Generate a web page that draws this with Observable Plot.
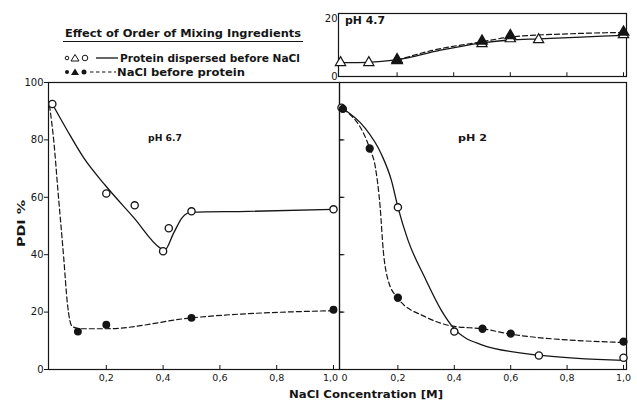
<!DOCTYPE html>
<html><head><meta charset="utf-8">
<script src="https://cdn.jsdelivr.net/npm/d3@7"></script>
<script src="https://cdn.jsdelivr.net/npm/@observablehq/plot@0.6"></script>
<style>
body{margin:0;background:#fff;}
#wrap{position:relative;width:637px;height:409px;overflow:hidden;background:#fff;}
#wrap svg{position:absolute;left:0;top:0;}
</style></head><body><div id="wrap"></div>
<script>
// ---------- data ----------
const xTicks = [0.2, 0.4, 0.6, 0.8, 1.0];
const xLabelsLeft = [0.2, 0.4, 0.6, 0.8];
const xLabelsLeftEnd = [1.0];
const xLabelsRightStart = [0];
const xLabelsRight = [0.2, 0.4, 0.6, 0.8, 1.0];
const yTicks = [0, 20, 40, 60, 80, 100];
const yInnerTicks = [20, 40, 60, 80];
const yTicksInset = [0, 20];

// pH 6.7 panel
const ph67OpenX = [0.01, 0.2, 0.3, 0.4, 0.42, 0.5, 1.0];
const ph67OpenY = [92.5, 61.3, 57.2, 41.2, 49.2, 55.1, 55.8];
const ph67FilledX = [0.1, 0.2, 0.5, 1.0];
const ph67FilledY = [13.2, 15.6, 18.0, 20.8];
const ph67SolidX = [0.01, 0.063, 0.12, 0.197, 0.296, 0.39, 0.405, 0.437, 0.468, 0.5, 0.7, 1.0];
const ph67SolidY = [92.5, 83.2, 73.8, 64.1, 53.0, 42.3, 41.5, 47.5, 53.0, 54.8, 55.1, 55.8];
const ph67DashX = [0.0, 0.015, 0.03, 0.05, 0.063, 0.08, 0.11, 0.2, 0.5, 1.0];
const ph67DashY = [92.0, 79.7, 62.0, 39.0, 23.0, 15.0, 14.2, 14.2, 18.0, 20.5];

// pH 2 panel
const ph2OpenX = [0.0, 0.2, 0.4, 0.7, 1.0];
const ph2OpenY = [91.2, 56.5, 13.2, 4.9, 4.1];
const ph2FilledX = [0.005, 0.1, 0.2, 0.5, 0.6, 1.0];
const ph2FilledY = [90.8, 77.0, 25.0, 14.2, 12.5, 9.7];
const ph2SolidX = [0.0, 0.082, 0.141, 0.177, 0.2, 0.236, 0.294, 0.353, 0.398, 0.495, 0.7, 1.0];
const ph2SolidY = [91.2, 84.3, 75.1, 65.9, 56.6, 45.0, 32.3, 20.8, 14.4, 8.7, 5.0, 3.2];
const ph2DashX = [0.005, 0.1, 0.12, 0.137, 0.148, 0.165, 0.2, 0.294, 0.4, 0.5, 0.6, 1.0];
const ph2DashY = [90.8, 77.0, 70.5, 56.6, 41.6, 31.2, 24.8, 18.5, 15.0, 14.2, 12.3, 9.4];

// pH 4.7 inset
const ph47OpenX = [0.0, 0.1, 0.2, 0.5, 0.6, 0.7, 1.0];
const ph47OpenY = [4.8, 4.8, 5.9, 11.3, 13.0, 12.7, 14.4];
const ph47FilledX = [0.2, 0.5, 0.6, 1.0];
const ph47FilledY = [5.5, 12.2, 14.1, 15.3];
const ph47SolidX = [0.0, 0.1, 0.2, 0.35, 0.5, 0.6, 0.7, 0.85, 1.0];
const ph47SolidY = [4.8, 4.9, 5.8, 9.0, 11.6, 12.6, 13.0, 13.6, 14.2];
const ph47DashX = [0.2, 0.32, 0.5, 0.6, 0.8, 1.0];
const ph47DashY = [5.6, 8.9, 12.0, 13.6, 14.7, 15.2];

// ---------- helpers ----------
const pts = (xs, ys) => xs.map((x, i) => ({x, y: ys[i]}));
const xFmt = d => d === 0 ? "0" : d3.format(".1f")(d).replace(".", ",");
const yFmt = d => String(d);
const INK = "#151515";
const FONT = "'DejaVu Sans', sans-serif";
const baseStyle = {background: "transparent", fontFamily: FONT, fontSize: "10px", color: INK, overflow: "visible"};
const wrap = document.getElementById("wrap");

function lineMarks(solid, dash, stroke) {
  return [
    Plot.line(solid, {x: "x", y: "y", curve: "monotone-x", stroke, strokeWidth: 1.3}),
    Plot.line(dash, {x: "x", y: "y", curve: "monotone-x", stroke, strokeWidth: 1.2, strokeDasharray: "5,3"})
  ];
}

// ---------- left panel: pH 6.7 ----------
const left = Plot.plot({
  width: 637, height: 409,
  marginLeft: 48, marginRight: 298, marginTop: 82, marginBottom: 40,
  style: baseStyle,
  x: {domain: [0, 1], insetLeft: 1, insetRight: 6},
  y: {domain: [0, 100]},
  marks: [
    Plot.frame({stroke: INK, strokeWidth: 1.2}),
    Plot.axisY(yTicks, {anchor: "left", tickSize: 4, tickPadding: 1, tickFormat: yFmt, label: null, fontSize: 10}),
    Plot.axisY(yInnerTicks, {anchor: "right", tickSize: 3, tickFormat: () => "", label: null}),
    Plot.axisX(xLabelsLeft, {anchor: "bottom", tickSize: 0, tickPadding: 5, tickFormat: xFmt, label: null, fontSize: 9.5}),
    Plot.axisX(xLabelsLeftEnd, {anchor: "bottom", tickSize: 0, tickPadding: 5, tickFormat: xFmt, label: null, fontSize: 9.5, dx: -3}),
    Plot.ruleX(xTicks, {x: d => d, y1: 0, y2: 1.4, stroke: INK}),
    ...lineMarks(pts(ph67SolidX, ph67SolidY), pts(ph67DashX, ph67DashY), INK),
    Plot.dot(pts(ph67FilledX, ph67FilledY), {x: "x", y: "y", r: 3.2, fill: INK, stroke: INK}),
    Plot.dot(pts(ph67OpenX, ph67OpenY), {x: "x", y: "y", r: 3.6, fill: "white", stroke: INK, strokeWidth: 1.3})
  ]
});
wrap.appendChild(left);

// ---------- right panel: pH 2 ----------
const right = Plot.plot({
  width: 637, height: 409,
  marginLeft: 339, marginRight: 11, marginTop: 82, marginBottom: 40,
  style: baseStyle,
  x: {domain: [0, 1], insetLeft: 2, insetRight: 3},
  y: {domain: [0, 100], axis: null},
  marks: [
    Plot.frame({stroke: INK, strokeWidth: 1.2}),
    Plot.ruleY(yInnerTicks, {y: d => d, x1: -0.005, x2: 0.012, stroke: INK}),
    Plot.axisX(xLabelsRightStart, {anchor: "bottom", tickSize: 0, tickPadding: 5, tickFormat: xFmt, label: null, fontSize: 9.5, dx: 3}),
    Plot.axisX(xLabelsRight, {anchor: "bottom", tickSize: 0, tickPadding: 5, tickFormat: xFmt, label: null, fontSize: 9.5}),
    Plot.ruleX(xTicks, {x: d => d, y1: 0, y2: 1.4, stroke: INK}),
    ...lineMarks(pts(ph2SolidX, ph2SolidY), pts(ph2DashX, ph2DashY), INK),
    Plot.dot(pts(ph2OpenX, ph2OpenY), {x: "x", y: "y", r: 3.6, fill: "white", stroke: INK, strokeWidth: 1.3}),
    Plot.dot(pts(ph2FilledX, ph2FilledY), {x: "x", y: "y", r: 3.4, fill: INK, stroke: INK})
  ]
});
wrap.appendChild(right);

// ---------- inset: pH 4.7 ----------
const inset = Plot.plot({
  width: 637, height: 409,
  marginLeft: 338, marginRight: 11, marginTop: 13, marginBottom: 333,
  style: baseStyle,
  x: {domain: [0, 1], insetLeft: 2, insetRight: 3, axis: null},
  y: {domain: [0, 20], insetTop: 5},
  marks: [
    Plot.frame({stroke: INK, strokeWidth: 1.2}),
    Plot.axisY(yTicksInset, {anchor: "left", tickSize: 0, tickPadding: 1, tickFormat: yFmt, label: null, fontSize: 10}),
    Plot.ruleX(xTicks, {x: d => d, y1: 0, y2: 1.3, stroke: INK}),
    ...lineMarks(pts(ph47SolidX, ph47SolidY), pts(ph47DashX, ph47DashY), INK),
    Plot.dot(pts(ph47OpenX, ph47OpenY), {x: "x", y: "y", symbol: "triangle", r: 3.8, fill: "white", stroke: INK, strokeWidth: 1.2}),
    Plot.dot(pts(ph47FilledX, ph47FilledY), {x: "x", y: "y", symbol: "triangle", r: 3.8, fill: INK, stroke: INK})
  ]
});
wrap.appendChild(inset);

// ---------- free text: legend, panel labels, axis titles ----------
const ns = "http://www.w3.org/2000/svg";
const over = document.createElementNS(ns, "svg");
over.setAttribute("width", 637); over.setAttribute("height", 409);
over.setAttribute("font-family", FONT);
over.setAttribute("fill", INK);
wrap.appendChild(over);
function el(tag, attrs, text) {
  const e = document.createElementNS(ns, tag);
  for (const k in attrs) e.setAttribute(k, attrs[k]);
  if (text != null) e.textContent = text;
  over.appendChild(e);
  return e;
}
function txt(s, x, y, len, size, extra = {}) {
  return el("text", Object.assign({x, y, "font-size": size, "font-weight": "bold",
    textLength: len, lengthAdjust: "spacingAndGlyphs"}, extra), s);
}
// legend
txt("Effect of Order of Mixing Ingredients", 65, 37, 236, 10);
el("line", {x1: 63, x2: 303, y1: 41.5, y2: 41.5, stroke: INK, "stroke-width": 1.1});
el("circle", {cx: 67, cy: 58, r: 1.8, fill: "white", stroke: INK, "stroke-width": 1});
el("path", {d: "M71,61 L75,54.5 L79,61 Z", fill: "white", stroke: INK, "stroke-width": 1});
el("circle", {cx: 85, cy: 58, r: 2.8, fill: "white", stroke: INK, "stroke-width": 1});
el("line", {x1: 96, x2: 118, y1: 58, y2: 58, stroke: INK, "stroke-width": 1.3});
txt("Protein dispersed before NaCl", 120, 62, 180, 10);
el("circle", {cx: 67, cy: 72, r: 2, fill: INK});
el("path", {d: "M71,75 L75,68.5 L79,75 Z", fill: INK});
el("circle", {cx: 84, cy: 72, r: 2.5, fill: INK});
el("line", {x1: 90, x2: 116, y1: 72, y2: 72, stroke: INK, "stroke-width": 1.2, "stroke-dasharray": "3.5,2.5"});
txt("NaCl before protein", 117, 76, 128, 10);
// panel labels
txt("pH 6.7", 148, 140.5, 34, 9.5);
txt("pH 2", 458, 140.5, 29, 9.5);
txt("pH 4.7", 345, 24, 40, 10);
// axis titles
txt("NaCl Concentration [M]", 289, 398, 154, 10);
txt("PDI %", 0, 0, 47, 10, {transform: "translate(25,247) rotate(-90)"});
</script>
</body></html>
